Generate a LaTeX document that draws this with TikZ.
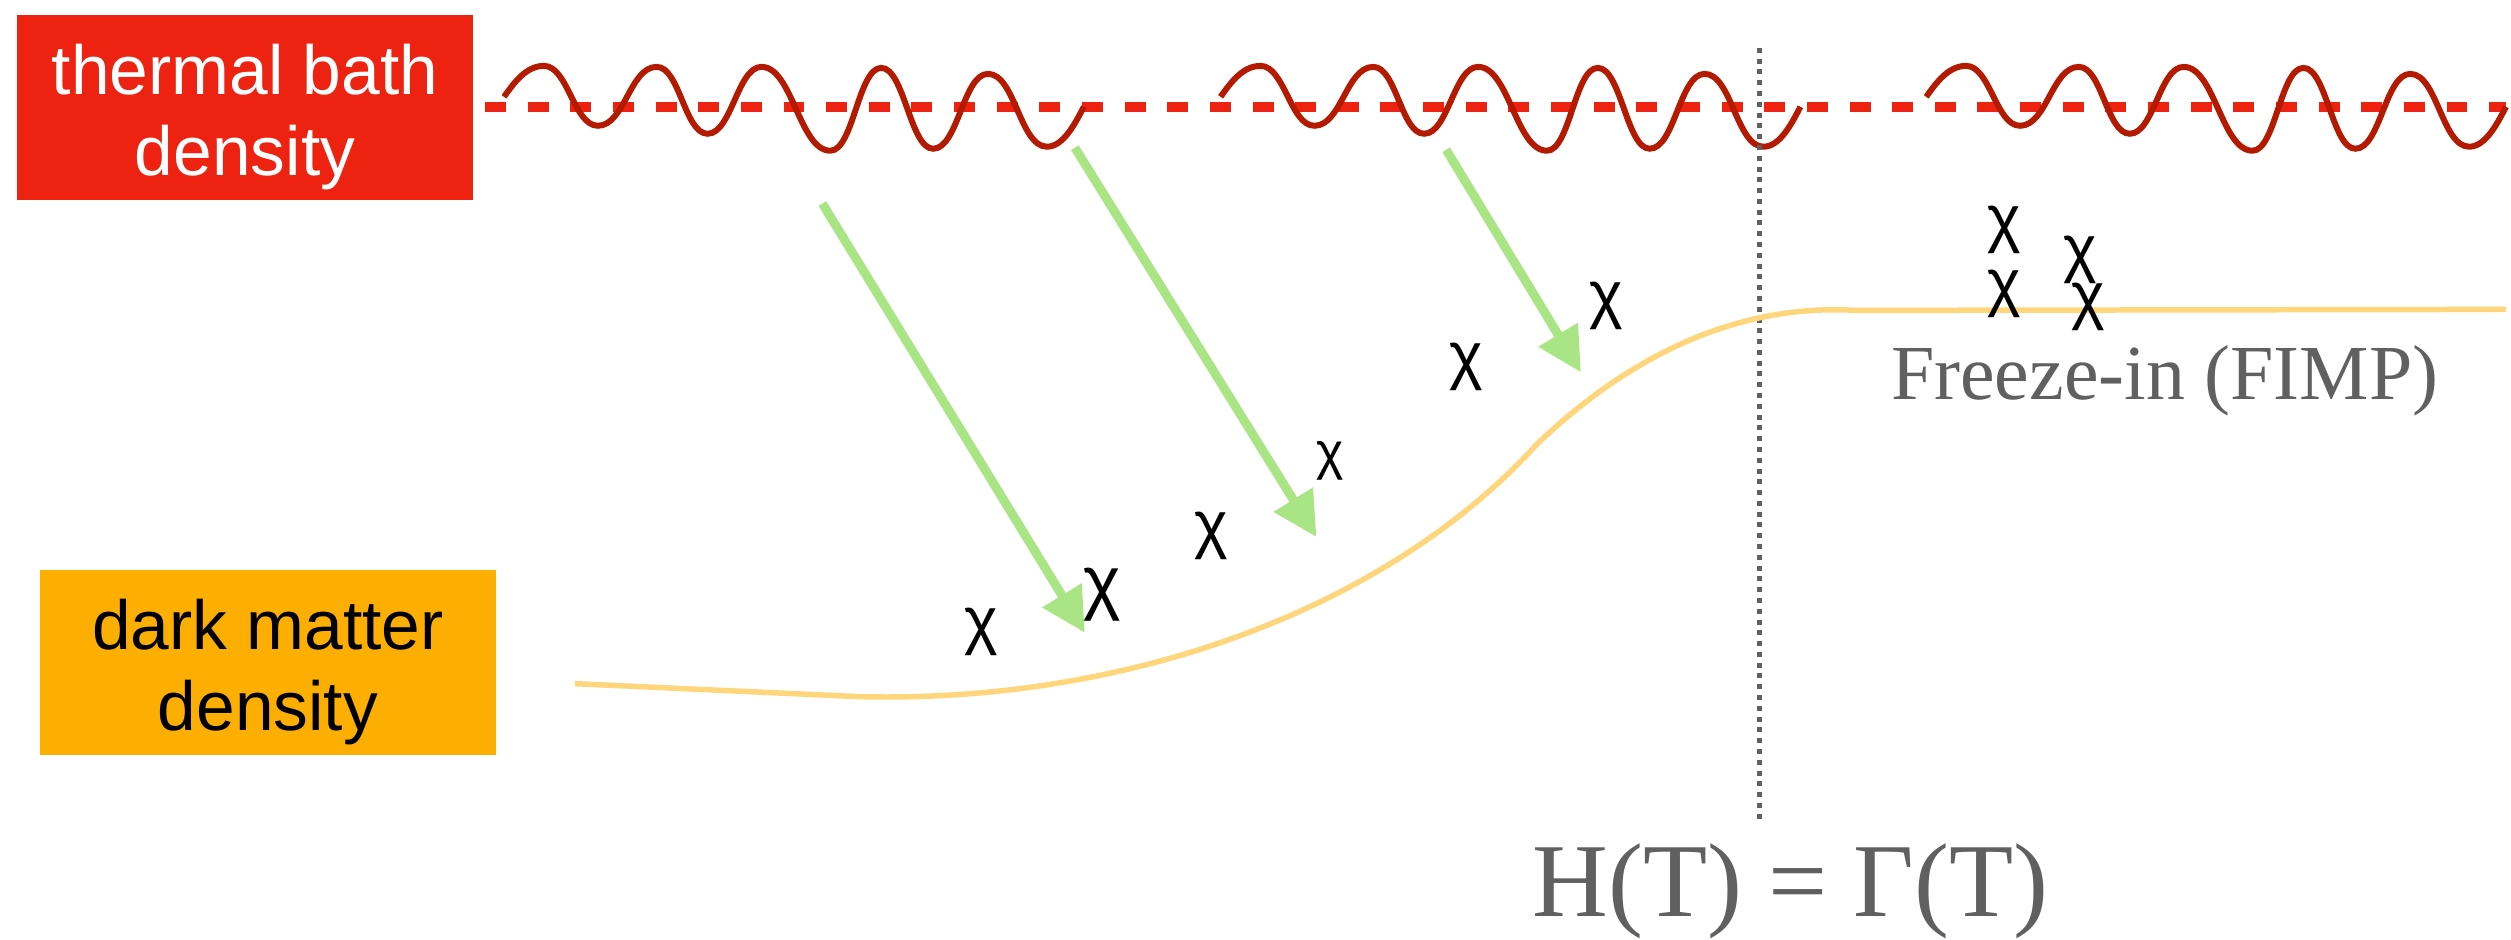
\documentclass[tikz,border=0pt]{standalone}
\usepackage{fontspec}
\setmainfont{Liberation Serif}
\newfontfamily\helv{Liberation Sans}
\usetikzlibrary{arrows.meta,positioning}
\definecolor{bathred}{HTML}{EE2211}
\definecolor{wavered}{HTML}{B41A00}
\definecolor{dmorange}{HTML}{FCAF00}
\definecolor{flowgreen}{HTML}{A9E585}
\definecolor{curveyellow}{HTML}{FFD67C}
\definecolor{labgray}{HTML}{606060}

\begin{document}
\begin{tikzpicture}[x=0.01cm,y=-0.01cm,
			box/.style={minimum width=4.57cm,minimum height=1.85cm,inner sep=0pt},
			boxlbl/.style={align=center,inner sep=0pt,font=\helv\fontsize{19.8}{23}\selectfont},
			chi/.style={inner sep=0pt,font=\helv\fontsize{18.2}{20}\selectfont},
			note/.style={inner sep=0pt,text=labgray,anchor=base},
			flow/.style={draw=flowgreen,line width=0.09cm,-{Triangle[length=0.44cm,width=0.44cm]}},
			wave/.style={draw=wavered,line width=0.06cm},
			bathline/.style={draw=bathred,line width=0.1cm,dash pattern=on 0.21cm off 0.217cm},
			crit/.style={draw=labgray,line width=0.05cm,dash pattern=on 0.05cm off 0.058cm},
			dmline/.style={draw=curveyellow,line width=0.055cm}
			]
			\fill[white] (0,0) rectangle (2511,941);
			% boxes on the left
			\node[box,fill=bathred] (bathbox) at (245.5,107.5) {};
			\node[boxlbl,text=white] (bathtxt) at ([yshift=-0.1cm]bathbox.center) {thermal bath\\density};
			\node[box,fill=dmorange] (dmbox) at (268.5,663.5) {};
			\node[boxlbl] (dmtxt) at ([yshift=-0.095cm]dmbox.center) {dark matter\\density};
			% thermal bath level and its waves
			\coordinate (b0) at (486,107);
			\coordinate (b1) at (2511,107);
			\draw[bathline] (b0) -- (b1);
			\foreach \s in {505,1223,1930}{
				\begin{scope}[shift={(\s,0)}]
					\draw[wave] (0,97) .. controls (10,83) and (22,66) .. (40,66)
					.. controls (64,66) and (70,126) .. (94,126)
					.. controls (121,126) and (126,67) .. (153,67)
					.. controls (176,67) and (181,134) .. (204,134)
					.. controls (228,134) and (234,67) .. (258,67)
					.. controls (289,67) and (296,151) .. (327,151)
					.. controls (350,151) and (355,68) .. (378,68)
					.. controls (401,68) and (407,149) .. (430,149)
					.. controls (455,149) and (460,74) .. (485,74)
					.. controls (512,74) and (517,147) .. (544,147)
					.. controls (561,147) and (573,122) .. (581,107);
				\end{scope}
			}
			% H = Gamma
			\coordinate (ctop) at (1763,48);
			\coordinate (cbot) at (1763,822);
			\draw[crit] (ctop) -- (cbot);
			% dark matter density
			\draw[dmline] (576,685) -- (860,698) .. controls (1130,705) and (1390,610) .. (1540,445)
			.. controls (1650,340) and (1760,305) .. (1860,311) -- (2511,310);
			% production
			\coordinate (s1) at (824,204);
			\coordinate (e1) at (1087,634);
			\coordinate (s2) at (1077,148);
			\coordinate (e2) at (1319,538);
			\coordinate (s3) at (1449,150);
			\coordinate (e3) at (1584,373);
			\draw[flow] (s1) -- (e1);
			\draw[flow] (s2) -- (e2);
			\draw[flow] (s3) -- (e3);
			% particles
			\node[chi] (ch1) at (983,633) {χ};
			\node[chi,font=\helv\fontsize{20.3}{22}\selectfont] (ch2) at (1104,596) {χ};
			\node[chi] (ch3) at (1214,537) {χ};
			\node[chi,font=\helv\fontsize{14.8}{17}\selectfont] (ch4) at (1333,462) {χ};
			\node[chi] (ch5) at (1469,368) {χ};
			\node[chi] (ch6) at (1609,306) {χ};
			\node[chi] (ch7) at (2008,230) {χ};
			\node[chi] (ch8) at (2084,260) {χ};
			\node[chi] (ch9) at (2008,294) {χ};
			\node[chi] (ch10) at (2092,307) {χ};
			% labels
			\node[note,font=\fontsize{22.2}{26}\selectfont] (fimp) at (2169,400) {Freeze-in (FIMP)};
			\node[note,font=\fontsize{29.9}{34}\selectfont] (eq) at (1794,918) {H(T) = Γ(T)};
		\end{tikzpicture}
\end{document}
